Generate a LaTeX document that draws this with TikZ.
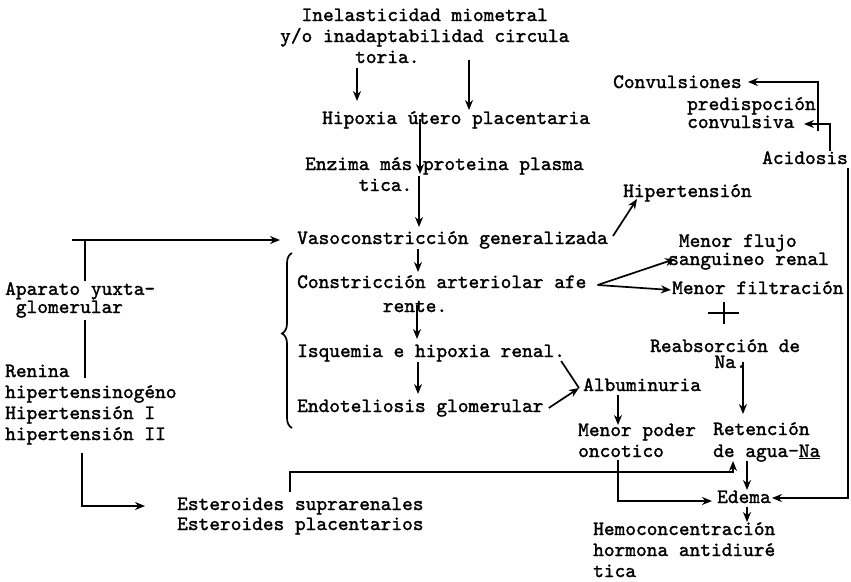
\documentclass[tikz,border=0pt]{standalone}
\usepackage{fontspec}
\newfontfamily\typew{lmmono10-regular}[Extension=.otf, FakeBold=1.5]
\usetikzlibrary{arrows.meta, decorations.pathreplacing}
\newcommand{\indn}[1]{\hspace*{#1\dimexpr0.525em\relax}}

\begin{document}
\begin{tikzpicture}[x=1pt, y=-1pt]
\tikzstyle{txt} = [anchor=base west, inner sep=0pt, align=left, font=\typew\fontsize{20.4}{21}\selectfont]
\tikzstyle{tight} = [font=\typew\fontsize{20.4}{16}\selectfont]
\tikzstyle{arr} = [-{Stealth[length=10pt, width=8pt]}, line width=1.7pt]
\tikzstyle{ln} = [line width=1.7pt]

\useasboundingbox[fill=white] (0,0) rectangle (851,581);

% main chain (multi-line nodes sit on their last line)
\node (ine) [txt] at (280,63) {\indn{2}Inelasticidad miometral\\y/o inadaptabilidad circula\\\indn{7}toria.};
\node (hip) [txt] at (322,124) {Hipoxia útero placentaria};
\node (enz) [txt] at (305,191) {Enzima más proteina plasma\\\indn{5}tica.};
\node (vaso) [txt] at (297,244) {Vasoconstricción generalizada};
\node (cons) [txt, font=\typew\fontsize{20.4}{24}\selectfont] at (297,312) {Constricción arteriolar afe\\\indn{8}rente.};
\node (isq) [txt] at (297,357) {Isquemia e hipoxia renal.};
\node (endo) [txt] at (297,412) {Endoteliosis glomerular};

% right side
\node (conv) [txt] at (613,88) {Convulsiones};
\node (pred) [txt, tight] at (687,128) {predispoción\\convulsiva};
\node (acid) [txt] at (762,164) {Acidosis};
\node (hten) [txt] at (623,197) {Hipertensión};
\node (mflu) [txt, font=\typew\fontsize{20.4}{17}\selectfont] at (668,265) {\indn{1}Menor flujo\\sanguineo renal};
\node (mfil) [txt] at (672,294) {Menor filtración};
\node (reab) [txt, tight] at (650,368) {Reabsorción de\\\indn{6}Na.};
\node (albu) [txt] at (583,391) {Albuminuria};
\node (mpod) [txt] at (578,457) {Menor poder\\oncotico};
\node (ret) [txt, font=\typew\fontsize{20.4}{22}\selectfont] at (713,457) {Retención\\de agua-\underline{Na}};
\node (edema) [txt] at (717,503) {Edema};
\node (hemo) [txt] at (593,577) {Hemoconcentración\\hormona antidiuré\\tica};

% left side
\node (ayg) [txt, font=\typew\fontsize{20.4}{17}\selectfont] at (5,313) {Aparato yuxta-\\\indn{1}glomerular};
\node (ren) [txt] at (5,440) {Renina\\hipertensinogéno\\Hipertensión I\\hipertensión II};
\node (est) [txt, font=\typew\fontsize{20.4}{20}\selectfont] at (177,530) {Esteroides suprarenales\\Esteroides placentarios};

% arrows down the middle
\draw[arr] ([shift={(77,5)}]ine.base west) -- ([shift={(35,-23)}]hip.base west);
\draw[arr] ([shift={(189,-3)}]ine.base west) -- ([shift={(147,-14)}]hip.base west);
\draw[arr] ([shift={(98,-5)}]hip.base west) -- ([shift={(115,-17)}]enz.base west);
\draw[arr] ([shift={(114,-15)}]enz.base west) -- ([shift={(122,-17)}]vaso.base west);
\draw[arr] ([shift={(121,5)}]vaso.base west) -- ([shift={(121,-40)}]cons.base west);
\draw[arr] ([shift={(120,-7)}]cons.base west) -- ([shift={(120,-18)}]isq.base west);
\draw[arr] ([shift={(121,5)}]isq.base west) -- ([shift={(121,-18)}]endo.base west);
\draw[ln, decorate, decoration={brace, amplitude=10pt, aspect=0.54}] (292,428) -- (292,253);

% branches
\draw[arr] ([shift={(5,-8)}]vaso.base east) -- ([shift={(14,2)}]hten.base west);
\draw[arr] ([shift={(11,-27)}]cons.base east) -- ([shift={(7,-6)}]mflu.base west);
\draw[arr] ([shift={(11,-27)}]cons.base east) -- ([shift={(-1,-4)}]mfil.base west);
\draw[line width=2.5pt] (708,313) -- (739,313) (724,302) -- (724,324);
\draw[ln] ([shift={(-4,4)}]isq.base east) -- ([shift={(-4,-3)}]albu.base west);
\draw[arr] ([shift={(5,-4)}]endo.base east) -- ([shift={(-4,-3)}]albu.base west);
\draw[arr] ([shift={(35,4)}]albu.base west) -- ([shift={(40,-32)}]mpod.base west);
\draw[arr] ([shift={(93,-6)}]reab.base west) -- ([shift={(30,-43)}]ret.base west);
\draw[arr] ([shift={(34,4)}]ret.base west) -- ([shift={(30,-13)}]edema.base west);
\draw[arr] ([shift={(30,4)}]edema.base west) -- ([shift={(154,-55)}]hemo.base west);
\draw[arr] ([shift={(40,3)}]mpod.base west) |- ([shift={(-5,-2)}]edema.base west);
\draw[arr] ([shift={(0,4)}]acid.base east) |- ([shift={(1,-5)}]edema.base east);
\draw[arr] ([shift={(68,-13)}]acid.base west) |- ([shift={(117,-4)}]pred.base west);
\draw[arr] ([shift={(131,3)}]pred.base west) |- ([shift={(6,-6)}]conv.base east);

% left loop
\draw[ln] ([shift={(80,-32)}]ayg.base west) -- ([shift={(80,-73)}]ayg.base west);
\draw[arr] ([shift={(67,-73)}]ayg.base west) -- ([shift={(-17,-4)}]vaso.base west);
\draw[ln] ([shift={(80,7)}]ayg.base west) -- ([shift={(80,-62)}]ren.base west);
\draw[arr] ([shift={(77,13)}]ren.base west) |- ([shift={(-32,-24)}]est.base west);
\draw[arr] ([shift={(113,-38)}]est.base west) -- ++(0,-20) -| ([shift={(20,4)}]ret.base west);

\end{tikzpicture}
\end{document}
